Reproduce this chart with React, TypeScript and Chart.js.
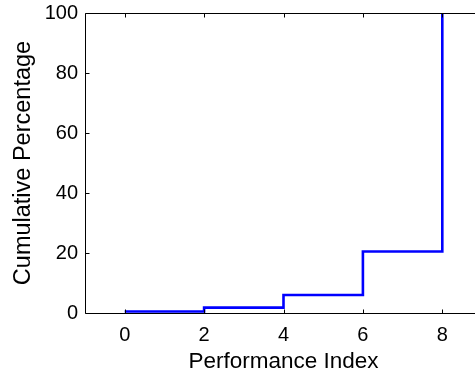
import React, { useEffect, useRef } from "react";
import { Chart, registerables } from "chart.js";

Chart.register(...registerables);

const performanceIndex = [0, 2, 4, 6, 8];
const cumulativePercentage = [0.5, 1.8, 6.0, 20.5, 100];
const xTicks = [0, 2, 4, 6, 8];
const xRange = [-1, 9];
const yRange = [0, 100];

const FONT = "'Liberation Sans', Arial, Helvetica, sans-serif";
const TICK_SIZE = 20;
const X_LABEL_SIZE = 22.5;
const Y_LABEL_SIZE = 23.5;

const boxPlugin = {
  id: "matlabBox",
  afterDraw(chart: any) {
    const { ctx, chartArea } = chart;
    const { left, right, top, bottom } = chartArea;
    const xs = chart.scales.x;
    const ys = chart.scales.y;
    ctx.save();
    ctx.strokeStyle = "#000";
    ctx.lineWidth = 1;
    ctx.beginPath();
    const L = Math.round(left) + 0.5;
    const R = Math.round(right) + 0.5;
    const T = Math.round(top) + 0.5;
    const B = Math.round(bottom) + 0.5;
    ctx.moveTo(L, T);
    ctx.lineTo(R, T);
    ctx.lineTo(R, B);
    ctx.lineTo(L, B);
    ctx.closePath();
    const tl = 4;
    xs.ticks.forEach((t: any) => {
      const px = Math.round(xs.getPixelForValue(t.value)) + 0.5;
      ctx.moveTo(px, B);
      ctx.lineTo(px, B - tl);
      ctx.moveTo(px, T);
      ctx.lineTo(px, T + tl);
    });
    ys.ticks.forEach((t: any) => {
      const py = Math.round(ys.getPixelForValue(t.value)) + 0.5;
      ctx.moveTo(L, py);
      ctx.lineTo(L + tl, py);
      ctx.moveTo(R, py);
      ctx.lineTo(R - tl, py);
    });
    ctx.stroke();
    ctx.restore();
  },
};

export default function App() {
  const ref = useRef<HTMLCanvasElement | null>(null);

  useEffect(() => {
    if (!ref.current) return;
    const chart = new Chart(ref.current, {
      type: "line",
      data: {
        datasets: [
          {
            data: performanceIndex.map((x, i) => ({ x, y: cumulativePercentage[i] })),
            borderColor: "#0000ff",
            borderWidth: 2.6,
            pointRadius: 0,
            fill: false,
            stepped: true,
            tension: 0,
          },
        ],
      },
      options: {
        responsive: false,
        animation: false,
        devicePixelRatio: 1,
        layout: { padding: { left: 0, right: 8, top: 13, bottom: 0 } },
        plugins: {
          legend: { display: false },
          tooltip: { enabled: false },
        },
        scales: {
          x: {
            type: "linear",
            min: xRange[0],
            max: xRange[1],
            grid: { display: false, drawTicks: false },
            border: { display: false },
            afterBuildTicks: (scale: any) => {
              scale.ticks = xTicks.map((v) => ({ value: v }));
            },
            afterFit: (scale: any) => {
              scale.height = 62;
              scale.paddingLeft = 0;
              scale.paddingRight = 0;
            },
            ticks: {
              color: "#000",
              padding: 10,
              maxRotation: 0,
              font: { family: FONT, size: TICK_SIZE },
              callback: (v: any) => String(v),
            },
            title: {
              display: true,
              text: "Performance Index",
              color: "#000",
              font: { family: FONT, size: X_LABEL_SIZE },
              padding: { top: 0, bottom: 0 },
            },
          },
          y: {
            type: "linear",
            min: yRange[0],
            max: yRange[1],
            grid: { display: false, drawTicks: false },
            border: { display: false },
            afterFit: (scale: any) => {
              scale.width = 85;
              scale.paddingTop = 0;
              scale.paddingBottom = 0;
            },
            ticks: {
              color: "#000",
              padding: 7,
              stepSize: 20,
              font: { family: FONT, size: TICK_SIZE },
            },
            title: {
              display: true,
              text: "Cumulative Percentage",
              color: "#000",
              font: { family: FONT, size: Y_LABEL_SIZE },
              padding: { top: 9, bottom: 0 },
            },
          },
        },
      },
      plugins: [boxPlugin],
    });
    return () => chart.destroy();
  }, []);

  return (
    <div
      style={{
        position: "fixed",
        left: 0,
        top: 0,
        width: 475,
        height: 375,
        overflow: "hidden",
        background: "#fff",
      }}
    >
      <canvas ref={ref} width={490} height={375} style={{ display: "block" }} />
    </div>
  );
}
